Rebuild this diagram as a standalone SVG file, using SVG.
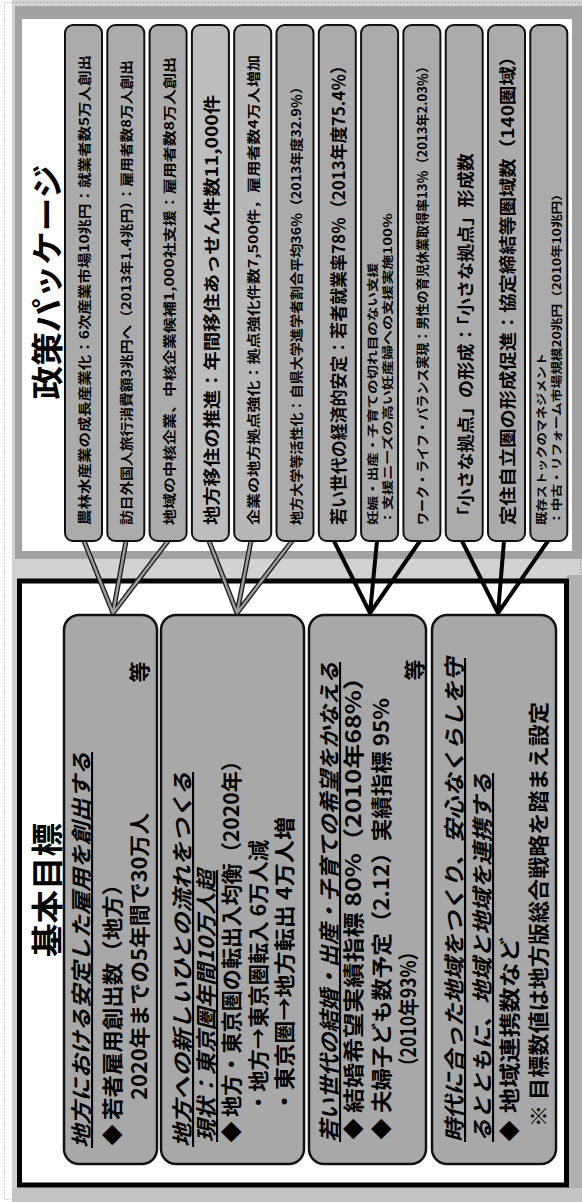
<svg xmlns="http://www.w3.org/2000/svg" width="582" height="1202" viewBox="0 0 582 1202">
<style>
.bar{fill:#ababab;stroke:#111;stroke-width:2}
.goal{fill:#a8a8a8;stroke:#111;stroke-width:2.5}
.t{font-family:"Noto Sans CJK JP","Noto Sans CJK SC",sans-serif;font-weight:bold;fill:#000;dominant-baseline:central}
.xs{font-size:11px}.s{font-size:13px}.l{font-size:17px}.g{font-size:21px}
.h{font-style:italic;text-decoration:underline}
.title{font-size:32px}
.go{stroke:#1a1a1a;stroke-width:5;fill:none;stroke-linecap:round}
.gi{stroke:#9c9c9c;stroke-width:2.4;fill:none;stroke-linecap:round}
.bl{stroke:#000;stroke-width:4;fill:none;stroke-linecap:round}
</style>
<rect width="582" height="1202" fill="#fff"/>
<rect x="12" y="0" width="570" height="1202" fill="#d2d2d2"/>
<rect x="4.5" y="2.5" width="576" height="1197" fill="none" stroke="#999" stroke-width="1" stroke-dasharray="1 2"/>
<!-- top panel frame -->
<rect x="15" y="6" width="567" height="553" fill="#a2a2a2"/>
<rect x="22" y="19" width="550" height="532" fill="#fff"/>
<!-- bottom panel frame -->
<rect x="567" y="575" width="15" height="627" fill="#b0b0b0"/>
<rect x="12" y="1188" width="570" height="14" fill="#c4c4c4"/>
<rect x="19.5" y="581" width="547" height="604" fill="#fff" stroke="#000" stroke-width="5"/>

<g id="title-policy"><text class="t title" text-anchor="middle" transform="translate(45,282) rotate(-90)" textLength="235" lengthAdjust="spacingAndGlyphs">政策パッケージ</text></g>
<g id="title-goals"><text class="t title" text-anchor="middle" transform="translate(45,890) rotate(-90)" textLength="134" lengthAdjust="spacingAndGlyphs">基本目標</text></g>

<g id="connectors">
<path class="go" d="M84,541L113,613M126,541L113,613M168,541L113,613M209,541L237,613M251,541L237,613M292,541L237,613"/>
<path class="gi" d="M84,541L113,613M126,541L113,613M168,541L113,613M209,541L237,613M251,541L237,613M292,541L237,613"/>
<path class="bl" d="M334,541L370,613M377,541L370,613M420,541L370,613M462,541L498,613M504,541L498,613M548,541L498,613"/>
</g>

<g id="p1"><rect class="bar" x="65" y="25" width="37" height="516" rx="8"/><text class="t s" transform="translate(83.5,525) rotate(-90)" textLength="470" lengthAdjust="spacingAndGlyphs">農林水産業の成長産業化：6次産業市場10兆円：就業者数5万人創出</text></g>
<g id="p2"><rect class="bar" x="107.3" y="25" width="37" height="516" rx="8"/><text class="t s" transform="translate(125.8,525) rotate(-90)" textLength="465" lengthAdjust="spacingAndGlyphs">訪日外国人旅行消費額3兆円へ（2013年1.4兆円）：雇用者数8万人創出</text></g>
<g id="p3"><rect class="bar" x="149.6" y="25" width="37" height="516" rx="8"/><text class="t s" transform="translate(168.1,525) rotate(-90)" textLength="468" lengthAdjust="spacingAndGlyphs">地域の中核企業、中核企業候補1,000社支援：雇用者数8万人創出</text></g>
<g id="p4"><rect class="bar" x="191.9" y="25" width="37" height="516" rx="8" style="fill:#bdbdbd"/><text class="t l" transform="translate(210.4,525) rotate(-90)" textLength="430" lengthAdjust="spacingAndGlyphs">地方移住の推進：年間移住あっせん件数11,000件</text></g>
<g id="p5"><rect class="bar" x="234.2" y="25" width="37" height="516" rx="8" style="fill:#b8b8b8"/><text class="t s" transform="translate(252.7,525) rotate(-90)" textLength="470" lengthAdjust="spacingAndGlyphs">企業の地方拠点強化：拠点強化件数7,500件，雇用者数4万人増加</text></g>
<g id="p6"><rect class="bar" x="276.5" y="25" width="37" height="516" rx="8"/><text class="t s" transform="translate(295,525) rotate(-90)" textLength="445" lengthAdjust="spacingAndGlyphs">地方大学等活性化：自県大学進学者割合平均36％（2013年度32.9％）</text></g>
<g id="p7"><rect class="bar" x="318.8" y="25" width="37" height="516" rx="8"/><text class="t l" transform="translate(337.3,525) rotate(-90)" textLength="468" lengthAdjust="spacingAndGlyphs">若い世代の経済的安定：若者就業率78％（2013年度75.4％）</text></g>
<g id="p8"><rect class="bar" x="361.1" y="25" width="37" height="516" rx="8"/><text class="t xs" transform="translate(372,525) rotate(-90)" textLength="262" lengthAdjust="spacingAndGlyphs">妊娠・出産・子育ての切れ目のない支援</text><text class="t xs" transform="translate(387,525) rotate(-90)" textLength="312" lengthAdjust="spacingAndGlyphs">：支援ニーズの高い妊産婦への支援実施100％</text></g>
<g id="p9"><rect class="bar" x="403.4" y="25" width="37" height="516" rx="8"/><text class="t s" transform="translate(421.9,525) rotate(-90)" textLength="465" lengthAdjust="spacingAndGlyphs">ワーク・ライフ・バランス実現：男性の育児休業取得率13％（2013年2.03％）</text></g>
<g id="p10"><rect class="bar" x="445.7" y="25" width="37" height="516" rx="8"/><text class="t l" transform="translate(464.2,525) rotate(-90)" textLength="372" lengthAdjust="spacingAndGlyphs">「小さな拠点」の形成：「小さな拠点」形成数</text></g>
<g id="p11"><rect class="bar" x="488" y="25" width="37" height="516" rx="8"/><text class="t l" transform="translate(506.5,525) rotate(-90)" textLength="478" lengthAdjust="spacingAndGlyphs">定住自立圏の形成促進：協定締結等圏域数（140圏域）</text></g>
<g id="p12"><rect class="bar" x="530.3" y="25" width="37" height="516" rx="8"/><text class="t xs" transform="translate(541,525) rotate(-90)" textLength="172" lengthAdjust="spacingAndGlyphs">既存ストックのマネジメント</text><text class="t xs" transform="translate(556,525) rotate(-90)" textLength="338" lengthAdjust="spacingAndGlyphs">：中古・リフォーム市場規模20兆円（2010年10兆円）</text></g>

<g id="goal1"><rect class="goal" x="64" y="615" width="93" height="549" rx="15"/>
<text class="t g h" transform="translate(80,1148) rotate(-90)" textLength="396" lengthAdjust="spacingAndGlyphs">地方における安定した雇用を創出する</text>
<text class="t g" text-anchor="middle" transform="translate(111,1135) rotate(-90)">◆</text>
<text class="t g" transform="translate(111,1120) rotate(-90)" textLength="247" lengthAdjust="spacingAndGlyphs">若者雇用創出数（地方）</text>
<text class="t g" transform="translate(138,1100) rotate(-90)" textLength="287" lengthAdjust="spacingAndGlyphs">2020年までの5年間で30万人</text>
<text class="t g" text-anchor="middle" transform="translate(138,672) rotate(-90)">等</text></g>

<g id="goal2"><rect class="goal" x="161" y="615" width="143" height="549" rx="15"/>
<text class="t g h" transform="translate(181,1147) rotate(-90)" textLength="375" lengthAdjust="spacingAndGlyphs">地方への新しいひとの流れをつくる</text>
<text class="t g h" transform="translate(205,1142) rotate(-90)" textLength="272" lengthAdjust="spacingAndGlyphs">現状：東京圏年間10万人超</text>
<text class="t g" text-anchor="middle" transform="translate(230,1132) rotate(-90)">◆</text>
<text class="t g" transform="translate(230,1117) rotate(-90)" textLength="367" lengthAdjust="spacingAndGlyphs">地方・東京圏の転出入均衡（2020年）</text>
<text class="t g" transform="translate(257,1113) rotate(-90)" textLength="273" lengthAdjust="spacingAndGlyphs">・地方→東京圏転入 6万人減</text>
<text class="t g" transform="translate(283,1113) rotate(-90)" textLength="296" lengthAdjust="spacingAndGlyphs">・東京圏→地方転出 4万人増</text></g>

<g id="goal3"><rect class="goal" x="309" y="615" width="117" height="549" rx="15"/>
<text class="t g h" transform="translate(328,1142) rotate(-90)" textLength="480" lengthAdjust="spacingAndGlyphs">若い世代の結婚・出産・子育ての希望をかなえる</text>
<text class="t g" text-anchor="middle" transform="translate(352,1129) rotate(-90)">◆</text>
<text class="t g" transform="translate(352,1113) rotate(-90)" textLength="448" lengthAdjust="spacingAndGlyphs">結婚希望実績指標 80%（2010年68%）</text>
<text class="t g" text-anchor="middle" transform="translate(380,1129) rotate(-90)">◆</text>
<text class="t g" transform="translate(380,1113) rotate(-90)" textLength="415" lengthAdjust="spacingAndGlyphs">夫婦子ども数予定（2.12）実績指標 95%</text>
<text class="t g" transform="translate(407,1075) rotate(-90)" textLength="132" lengthAdjust="spacingAndGlyphs">（2010年93%）</text>
<text class="t g" text-anchor="middle" transform="translate(413,670) rotate(-90)">等</text></g>

<g id="goal4"><rect class="goal" x="432" y="615" width="124" height="549" rx="15"/>
<text class="t g h" transform="translate(453,1142) rotate(-90)" textLength="484" lengthAdjust="spacingAndGlyphs">時代に合った地域をつくり、安心なくらしを守</text>
<text class="t g h" transform="translate(481,1142) rotate(-90)" textLength="369" lengthAdjust="spacingAndGlyphs">るとともに、地域と地域を連携する</text>
<text class="t g" text-anchor="middle" transform="translate(508,1131) rotate(-90)">◆</text>
<text class="t g" transform="translate(508,1113) rotate(-90)" textLength="176" lengthAdjust="spacingAndGlyphs">地域連携数など</text>
<text class="t g" transform="translate(537,1127) rotate(-90)" textLength="425" lengthAdjust="spacingAndGlyphs">※ 目標数値は地方版総合戦略を踏まえ設定</text></g>
</svg>
